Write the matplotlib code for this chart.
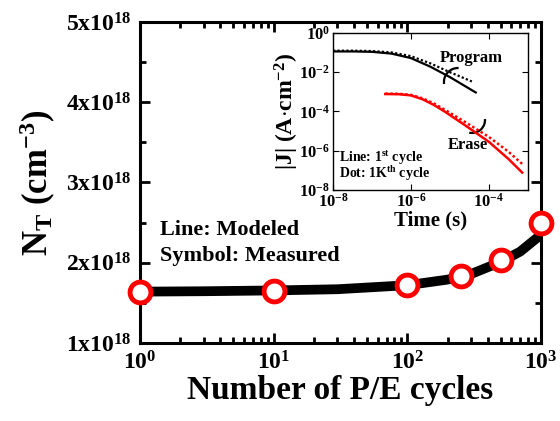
import numpy as np
import matplotlib
matplotlib.use("Agg")
import matplotlib.pyplot as plt
from matplotlib.patches import Arc

plt.rcParams['font.family'] = 'Liberation Serif'
plt.rcParams['font.weight'] = 'bold'
plt.rcParams['mathtext.fontset'] = 'custom'
plt.rcParams['mathtext.rm'] = 'Liberation Serif:bold'
plt.rcParams['mathtext.it'] = 'Liberation Serif:bold'
plt.rcParams['mathtext.bf'] = 'Liberation Serif:bold'
plt.rcParams['mathtext.default'] = 'rm'

# main chart data
cyc_meas = [1, 10, 100, 250, 500, 1000]
nt_meas = [1.64e18, 1.65e18, 1.72e18, 1.83e18, 2.03e18, 2.50e18]
cyc_model = [1, 3, 10, 30, 100, 200, 300, 500, 700, 1000]
nt_model = [1.64e18, 1.645e18, 1.655e18, 1.67e18, 1.72e18, 1.79e18, 1.86e18, 2.01e18, 2.14e18, 2.35e18]

yticks = [1e18, 2e18, 3e18, 4e18, 5e18]
ytick_labels = ['1x10$^{18}$', '2x10$^{18}$', '3x10$^{18}$', '4x10$^{18}$', '5x10$^{18}$']

# inset data (log10 values)
t_prog = [-8, -7.5, -7, -6.5, -6, -5.5, -5, -4.34]
j_prog_1st = [-0.94, -0.94, -0.96, -1.05, -1.28, -1.72, -2.25, -3.03]
t_prog_k = [-8, -7.5, -7, -6.5, -6, -5.5, -5, -4.44]
j_prog_1k = [-0.90, -0.90, -0.92, -0.99, -1.18, -1.55, -2.0, -2.47]
t_er = [-6.66, -6.3, -6.0, -5.7, -5.4, -5.1, -4.6, -4.0, -3.5, -3.15]
j_er_1st = [-3.11, -3.12, -3.18, -3.38, -3.68, -4.05, -4.72, -5.55, -6.42, -7.11]
j_er_1k = [-3.09, -3.10, -3.15, -3.33, -3.60, -3.95, -4.55, -5.30, -6.05, -6.67]

fig = plt.figure(figsize=(5.6, 4.21), dpi=100)
ax = fig.add_axes([140/560, 1-343/421, 401/560, 321/421])

ax.plot(cyc_model, nt_model, color='black', lw=7, solid_capstyle='butt', zorder=2)
ax.plot(cyc_meas, nt_meas, 'o', ms=15, mfc='white', mec='red', mew=3.5, zorder=3, clip_on=False)

ax.set_xscale('log')
ax.set_xlim(1, 1000)
ax.set_ylim(1e18, 5e18)
ax.set_yticks(yticks)
ax.set_yticklabels(ytick_labels)
ax.set_yticks([1.5e18, 2.5e18, 3.5e18, 4.5e18], minor=True)
ax.set_xticks([1, 10, 100, 1000])
ax.set_xticklabels(['10$^0$', '10$^1$', '10$^2$', '10$^3$'])
ax.tick_params(which='both', direction='in', top=True, right=True, labelsize=17, width=2)
ax.tick_params(which='major', length=7, pad=6)
ax.tick_params(which='minor', length=4)
for s in ax.spines.values():
    s.set_linewidth(2.2)
ax.set_xlabel('Number of P/E cycles', fontsize=24, fontweight='bold', labelpad=0)
ax.set_ylabel('N$_T$ (cm$^{-3}$)', fontsize=25, fontweight='bold', labelpad=6)

ax.text(0.05, 0.336, 'Line: Modeled', transform=ax.transAxes, fontsize=16, fontweight='bold')
ax.text(0.05, 0.255, 'Symbol: Measured', transform=ax.transAxes, fontsize=16, fontweight='bold')

# inset
ins = fig.add_axes([333/560, 1-190/421, 195/560, 157/421])
ins.plot(10**np.array(t_prog), 10**np.array(j_prog_1st), color='black', lw=1.6)
ins.plot(10**np.array(t_prog_k), 10**np.array(j_prog_1k), color='black', lw=1.6, ls=(0, (1, 1)))
ins.plot(10**np.array(t_er), 10**np.array(j_er_1st), color='red', lw=1.8)
ins.plot(10**np.array(t_er), 10**np.array(j_er_1k), color='red', lw=1.8, ls=(0, (1, 1)))
ins.set_xscale('log')
ins.set_yscale('log')
ins.set_xlim(1e-8, 1e-3)
ins.set_ylim(1e-8, 1)
ins.set_xticks([1e-8, 1e-6, 1e-4])
ins.set_xticklabels(['10$^{-8}$', '10$^{-6}$', '10$^{-4}$'])
ins.set_yticks([1e-8, 1e-6, 1e-4, 1e-2, 1])
ins.set_yticklabels(['10$^{-8}$', '10$^{-6}$', '10$^{-4}$', '10$^{-2}$', '10$^0$'])
ins.tick_params(which='both', direction='in', top=True, right=True, labelsize=12, width=0.8, pad=2)
ins.tick_params(which='major', length=4)
ins.tick_params(which='minor', length=2)
for s in ins.spines.values():
    s.set_linewidth(1.0)
ins.set_xlabel('Time (s)', fontsize=15, fontweight='bold', labelpad=0)
ins.set_ylabel('|J| (A$\\cdot$cm$^{-2}$)', fontsize=17, fontweight='bold', labelpad=-1)
ins.text(5.5e-6, 3.5e-2, 'Program', fontsize=12, fontweight='bold')
ins.text(9e-6, 1.3e-6, 'Erase', fontsize=12, fontweight='bold')
ins.text(1.4e-8, 2.7e-7, 'Line: 1$^{st}$ cycle', fontsize=10, fontweight='bold')
ins.text(1.4e-8, 4.2e-8, 'Dot: 1K$^{th}$ cycle', fontsize=10, fontweight='bold')
ins.add_patch(Arc((0.641, 0.688), 0.144, 0.178, angle=0, theta1=88, theta2=190,
                  transform=ins.transAxes, color='black', lw=1.6))
ins.add_patch(Arc((0.713, 0.446), 0.133, 0.166, angle=0, theta1=-100, theta2=5,
                  transform=ins.transAxes, color='black', lw=1.6))

fig.savefig('out.png', dpi=100)
